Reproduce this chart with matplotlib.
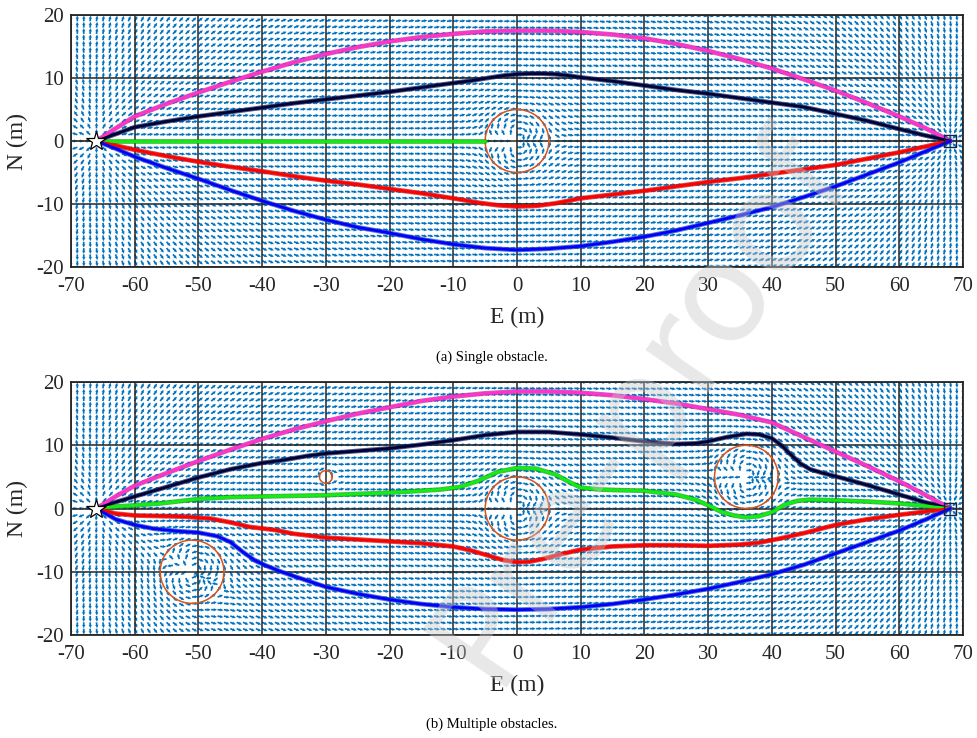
import numpy as np
import matplotlib
matplotlib.use("Agg")
import matplotlib.pyplot as plt

plt.rcParams["font.family"] = ["Liberation Serif", "DejaVu Serif"]
plt.rcParams["axes.unicode_minus"] = False

# ---- scenario -------------------------------------------------------------
start = (-66.0, 0.0)
goal = (68.0, 0.0)

# obstacles: centre E, centre N, radius (m)
obs_a_e = [0.0]
obs_a_n = [0.0]
obs_a_r = [5.0]

obs_b_e = [0.0, -30.0, -51.0, 36.0]
obs_b_n = [0.0, 5.0, -10.0, 5.0]
obs_b_r = [5.0, 1.0, 5.0, 5.0]

# ---- trajectories, panel (a) ---------------------------------------------
mag_a_e = [-66, -63, -60, -55, -50, -45, -40, -35, -30, -25, -20, -15, -10, -5, 0,
           5, 10, 15, 20, 25, 30, 35, 40, 45, 50, 55, 60, 64, 68]
mag_a_n = [0, 2.0, 3.9, 5.9, 7.7, 9.4, 11.0, 12.5, 13.8, 14.9, 15.8, 16.5, 17.0, 17.4, 17.5,
           17.5, 17.3, 16.9, 16.3, 15.4, 14.3, 13.0, 11.5, 9.8, 8.0, 6.0, 3.9, 2.1, 0]

nav_a_e = [-66, -63, -60, -55, -50, -45, -40, -35, -30, -25, -20, -15, -10, -7, -4, -2, 0,
           2, 4, 6, 8, 10, 15, 20, 25, 30, 35, 40, 45, 50, 55, 60, 64, 68]
nav_a_n = [0, 1.1, 2.2, 3.1, 3.9, 4.6, 5.3, 6.0, 6.6, 7.2, 7.8, 8.5, 9.2, 9.6, 10.1, 10.4, 10.6,
           10.7, 10.7, 10.6, 10.4, 10.1, 9.5, 8.8, 8.1, 7.5, 6.8, 6.1, 5.4, 4.3, 3.2, 1.9, 0.9, 0]

grn_a_e = [-66, -5]
grn_a_n = [0, 0]

red_a_e = [-66, -63, -60, -55, -50, -45, -40, -35, -30, -25, -20, -15, -10, -6, -3, 0,
           3, 6, 10, 15, 20, 25, 30, 35, 40, 45, 50, 55, 60, 64, 68]
red_a_n = [0, -0.7, -1.4, -2.4, -3.3, -4.1, -4.8, -5.6, -6.3, -6.9, -7.6, -8.3, -9.1, -9.8, -10.2, -10.4,
           -10.3, -9.9, -9.1, -8.5, -7.9, -7.2, -6.5, -5.9, -5.2, -4.5, -3.8, -2.8, -1.8, -0.9, 0]

blu_a_e = [-66, -63, -60, -55, -50, -45, -40, -35, -30, -25, -20, -15, -10, -5, 0,
           5, 10, 15, 20, 25, 30, 35, 40, 45, 50, 55, 60, 64, 68]
blu_a_n = [0, -1.2, -2.5, -4.3, -6.0, -7.8, -9.5, -11.1, -12.5, -13.7, -14.6, -15.6, -16.4, -17.0, -17.3,
           -17.1, -16.7, -16.0, -15.2, -14.2, -13.0, -11.8, -10.5, -8.9, -7.2, -5.3, -3.4, -1.7, 0]

# ---- trajectories, panel (b) ---------------------------------------------
mag_b_e = [-66, -63, -60, -56, -50, -45, -40, -35, -30, -25, -20, -15, -10, -5, 0,
           5, 10, 15, 20, 25, 30, 35, 40, 45, 50, 55, 60, 64, 68]
mag_b_n = [0, 1.9, 3.6, 5.2, 7.5, 9.3, 11.0, 12.5, 13.8, 15.0, 16.0, 17.0, 17.7, 18.2, 18.5,
           18.5, 18.3, 17.9, 17.3, 16.6, 15.7, 14.8, 13.6, 11.3, 9.0, 6.7, 4.3, 2.2, 0]

nav_b_e = [-66, -63, -60, -56, -50, -45, -40, -37, -33, -30, -25, -20, -15, -10, -5, 0,
           5, 10, 15, 20, 25, 28, 30, 33, 36, 38, 40, 41.5, 43, 44.5, 46, 48, 50.7, 55, 60, 64, 68]
nav_b_n = [0, 1.0, 1.9, 3.1, 4.9, 6.2, 7.2, 7.6, 8.3, 8.7, 9.1, 9.5, 10.1, 10.8, 11.6, 12.1,
           12.1, 11.7, 11.2, 10.6, 10.2, 10.3, 10.6, 11.3, 11.8, 11.7, 11.1, 10.0, 8.5, 7.1, 6.2, 5.6, 4.9,
           3.7, 2.2, 1.0, 0]

grn_b_e = [-66, -63, -60, -56, -50, -45, -40, -35, -30, -25, -20, -15, -12, -9, -6, -3, 0,
           3, 6, 8, 10, 13, 16, 20, 25, 28, 30, 32, 34, 36, 38, 40, 42, 44, 46, 50, 55, 60, 64, 68]
grn_b_n = [0, 0.3, 0.5, 0.8, 1.5, 1.8, 1.9, 2.0, 2.1, 2.3, 2.5, 2.8, 3.0, 3.4, 4.4, 5.8, 6.4,
           6.3, 5.4, 4.3, 3.3, 3.0, 2.9, 2.8, 2.2, 1.4, 0.5, -0.5, -1.1, -1.4, -1.2, -0.6, 0.6, 1.2, 1.4,
           1.3, 1.1, 0.8, 0.4, 0]

red_b_e = [-66, -63, -60, -56, -52, -48, -45, -42, -38, -35, -30, -25, -20, -15, -10, -7, -4, -2, 0,
           2, 4, 7, 10, 15, 20, 25, 30, 35, 38, 41, 45, 50, 55, 60, 64, 68]
red_b_n = [0, -0.8, -1.1, -1.2, -1.3, -1.6, -2.2, -2.9, -3.4, -4.0, -4.6, -4.9, -5.2, -5.5, -6.0, -6.7,
           -7.6, -8.2, -8.5, -8.4, -8.0, -7.2, -6.5, -6.0, -5.8, -5.8, -5.9, -5.7, -5.4, -4.8, -3.9, -2.6,
           -1.7, -1.0, -0.5, 0]

blu_b_e = [-66, -63, -60, -57, -53, -50, -47, -45, -43, -41, -39, -37, -35, -30, -25, -20, -15, -10,
           -5, 0, 5, 10, 15, 20, 25, 30, 35, 40, 45, 50, 55, 60, 64, 68]
blu_b_n = [0, -1.7, -2.6, -3.2, -3.6, -3.8, -4.4, -5.3, -6.9, -8.3, -9.2, -10.0, -10.7, -12.4, -13.5,
           -14.4, -15.1, -15.6, -15.9, -16.0, -15.9, -15.6, -15.1, -14.4, -13.6, -12.7, -11.6, -10.4,
           -8.9, -7.1, -5.3, -3.5, -1.8, 0]

paths_a = [(mag_a_e, mag_a_n, "#ff33cc", "#c4279e"),
           (nav_a_e, nav_a_n, "#00003a", "#1c2a5a"),
           (grn_a_e, grn_a_n, "#11ee11", "#11a011"),
           (red_a_e, red_a_n, "#ff0000", "#c81010"),
           (blu_a_e, blu_a_n, "#0000ff", "#2040c0")]
paths_b = [(mag_b_e, mag_b_n, "#ff33cc", "#c4279e"),
           (nav_b_e, nav_b_n, "#00003a", "#1c2a5a"),
           (grn_b_e, grn_b_n, "#11ee11", "#11a011"),
           (red_b_e, red_b_n, "#ff0000", "#c81010"),
           (blu_b_e, blu_b_n, "#0000ff", "#2040c0")]

e_ticks = list(range(-70, 71, 10))
n_ticks = list(range(-20, 21, 10))
grid_e = np.arange(-70, 71, 1.0)
grid_n = np.arange(-20, 21, 1.0)
arrow_len = 0.92


def base_dir(z):
    zs = complex(*start)
    zg = complex(*goal)
    ds = z - zs
    dg = zg - z
    v = ds / np.abs(ds) ** 2 + dg / np.abs(dg) ** 2
    return v / np.abs(v)


def guidance_field(ox, oy, orad):
    E, N = np.meshgrid(grid_e, grid_n)
    z = E + 1j * N
    with np.errstate(divide="ignore", invalid="ignore"):
        v = base_dir(z)
        for cx, cy, r in zip(ox, oy, orad):
            zc = complex(cx, cy)
            vk = base_dir(np.array([zc]))[0]
            v = v - np.conj(vk) * r ** 2 / np.conj(z - zc) ** 2
        v = v / np.abs(v)
    U = np.ma.masked_invalid(v.real * arrow_len)
    V = np.ma.masked_invalid(v.imag * arrow_len)
    return E, N, U, V


def draw_panel(ax, ox, oy, orad, paths):
    E, N, U, V = guidance_field(ox, oy, orad)
    ax.quiver(E, N, U, V, angles="xy", scale_units="xy", scale=1,
              color="#0072BD", width=0.0019, headwidth=2.0, headlength=2.0,
              headaxislength=1.8, zorder=1)
    th = np.linspace(0, 2 * np.pi, 200)
    for cx, cy, r in zip(ox, oy, orad):
        ax.plot(cx + r * np.cos(th), cy + r * np.sin(th), color="#D95319",
                lw=1.1, zorder=2.7)
    for pe, pn, c, edge in paths:
        ax.plot(pe, pn, color=edge, lw=3.4, alpha=0.75, solid_capstyle="round",
                solid_joinstyle="round", zorder=3)
        ax.plot(pe, pn, color=c, lw=2.0, solid_capstyle="round",
                solid_joinstyle="round", zorder=3.1)
    ax.plot(*start, marker="*", ms=15, mfc="white", mec="black", mew=0.9, zorder=4)
    ax.plot(*goal, marker="s", ms=8, mfc="none", mec="#1a2040", mew=1.0, zorder=4)

    ax.set_xlim(-70, 70)
    ax.set_ylim(-20, 20)
    ax.set_xticks(e_ticks)
    ax.set_yticks(n_ticks)
    ax.set_xticklabels([str(t) for t in e_ticks])
    ax.set_yticklabels([str(t) for t in n_ticks])
    ax.grid(True, color="#262626", lw=1.1)
    ax.set_axisbelow(False)
    ax.tick_params(length=0, labelsize=15, colors="#262626", pad=5)
    ax.tick_params(axis="x", pad=7)
    for s in ax.spines.values():
        s.set_color("#262626")
        s.set_linewidth(1.3)
        s.set_zorder(5)
    ax.set_ylabel("N (m)", fontsize=17, color="#262626", labelpad=6)


fig = plt.figure(figsize=(9.78, 7.38), dpi=100)
ax_a = fig.add_axes([71 / 978, 1 - 267 / 738, 892 / 978, 252 / 738])
ax_b = fig.add_axes([71 / 978, 1 - 635 / 738, 892 / 978, 253 / 738])

draw_panel(ax_a, obs_a_e, obs_a_n, obs_a_r, paths_a)
draw_panel(ax_b, obs_b_e, obs_b_n, obs_b_r, paths_b)

fig.text(517 / 978, 1 - 323 / 738, "E (m)", fontsize=17, color="#262626",
         ha="center", va="baseline")
fig.text(517 / 978, 1 - 691 / 738, "E (m)", fontsize=17, color="#262626",
         ha="center", va="baseline")
fig.text(492 / 978, 1 - 361 / 738, "(a) Single obstacle.", fontsize=10.5,
         color="black", ha="center", va="baseline")
fig.text(492 / 978, 1 - 728 / 738, "(b) Multiple obstacles.", fontsize=10.5,
         color="black", ha="center", va="baseline")

fig.text(640 / 978, 1 - 405 / 738, "Pre-proof", fontsize=100, rotation=55.6,
         color="#c8c8c8", alpha=0.42, ha="center", va="center",
         family="DejaVu Sans", zorder=10)

fig.savefig("out.png", dpi=100)
